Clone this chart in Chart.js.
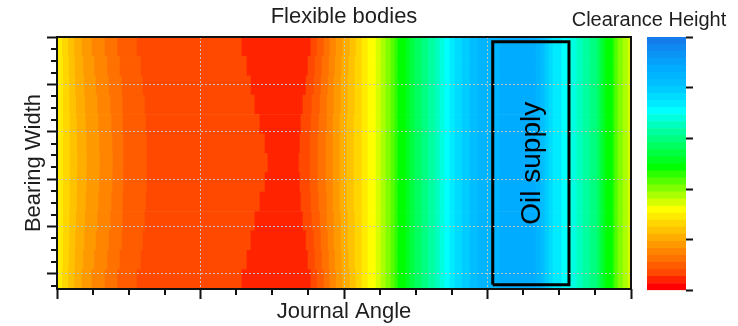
<!DOCTYPE html>
<html>
<head>
<meta charset="utf-8">
<script src="https://cdn.jsdelivr.net/npm/chart.js@4.4.1/dist/chart.umd.min.js"></script>
<style>
  body { margin: 0; background: #fff; }
  #wrap { position: relative; width: 738px; height: 326px; }
  canvas { position: absolute; top: 0; }
  #main { left: 0; }
  #bar { left: 560px; }
</style>
</head>
<body>
<div id="wrap">
  <canvas id="main" width="738" height="326"></canvas>
  <canvas id="bar" width="178" height="326"></canvas>
</div>
<script>
// contour levels along the journal angle (same order for every row), 0 = lowest clearance
const bandLevels = [11, 10, 9, 8, 7, 6, 5, 4, 3, 2, 1,
  2, 3, 4, 5, 6, 7, 8, 9, 10, 11, 12, 13, 14, 15, 16, 17, 18, 19, 20, 21, 22, 23, 24, 25, 26, 27, 28, 29, 30, 31,
  30, 29, 28, 27, 26, 25, 24, 23, 22, 21, 20, 19, 18, 17, 16, 15, 14, 13, 12];

// bearing width of each row (centre of the strip)
const rowWidths = [-0.115, 0.294, 0.703, 1.112, 1.522, 1.931, 2.340, 2.749, 3.158, 3.568, 3.977, 4.386, 4.795];

// journal angle (deg) where the level changes, first 18 changes, read per row
const edgesW0 = [0.8, 4.0, 8.2, 12.9, 18.8, 27.0, 35.1, 41.7, 56.4, 132.3, 151.8, 158.7, 163.7, 168.7, 173.1, 177.5, 181.9, 186.3];
const edgesW1 = [0.8, 4.0, 8.2, 12.7, 18.7, 26.7, 34.8, 41.7, 56.4, 130.5, 152.4, 158.7, 163.7, 168.7, 173.1, 177.5, 181.9, 186.3];
const edgesW2 = [0.8, 4.0, 8.2, 12.5, 18.2, 26.0, 34.2, 41.4, 55.8, 127.3, 153.0, 159.3, 164.3, 169.3, 173.1, 177.5, 181.9, 186.3];
const edgesW3 = [0.8, 4.0, 8.0, 12.1, 17.7, 25.4, 33.6, 41.1, 55.2, 124.2, 154.3, 159.9, 165.0, 169.3, 173.7, 178.1, 182.5, 186.9];
const edgesW4 = [0.8, 4.0, 7.8, 11.6, 17.2, 24.5, 32.6, 40.8, 53.9, 121.7, 156.2, 161.2, 165.6, 170.0, 173.7, 178.1, 182.5, 186.9];
const edgesW5 = [0.6, 3.8, 7.5, 11.3, 16.6, 23.5, 31.7, 39.5, 52.7, 119.2, 157.4, 161.8, 166.2, 170.6, 174.4, 178.7, 183.1, 186.9];
const edgesW6 = [0.5, 3.4, 7.1, 10.9, 15.7, 22.0, 30.1, 37.9, 50.2, 116.0, 159.3, 163.1, 167.5, 171.2, 175.0, 179.4, 183.8, 187.5];

// the rest of the level changes are the same across the width
const sharedEdges = [191.3, 195.1, 200.1, 203.2, 206.3, 209.5, 212.0, 213.9, 218.9, 221.4, 224.5, 228.9,
  232.7, 237.1, 240.2, 243.3, 246.5, 249.6, 254.0, 259.0, 264.0, 277.8,
  300.4, 303.6, 306.1, 308.6, 311.1, 316.7, 321.7, 326.1, 329.9, 334.3, 338.7, 340.6, 342.4, 344.3,
  348.7, 350.0, 351.9, 355.0, 358.1];

const rowEdges = [edgesW6, edgesW5, edgesW4, edgesW3, edgesW2, edgesW1, edgesW0,
  edgesW1, edgesW2, edgesW3, edgesW4, edgesW5, edgesW6];

const oilSupplyAngles = [273.3, 321.1];
const oilSupplyWidths = [-0.23, 4.9];

const levelCount = 36;

// colour map
const colorStops = [
  [0, [255, 0, 0]], [1, [255, 35, 0]], [2, [255, 72, 0]], [11, [255, 255, 0]],
  [17, [0, 255, 0]], [25, [0, 255, 255]], [26, [0, 235, 255]], [29, [0, 190, 255]],
  [31, [0, 172, 255]], [35, [20, 125, 235]]
];
function levelColor(k) {
  for (let i = 1; i < colorStops.length; i++) {
    const [k0, c0] = colorStops[i - 1];
    const [k1, c1] = colorStops[i];
    if (k <= k1) {
      const t = (k - k0) / (k1 - k0);
      return 'rgb(' + c0.map((v, j) => Math.round(v + (c1[j] - v) * t)).join(',') + ')';
    }
  }
}
const palette = [];
for (let k = 0; k < levelCount; k++) palette.push(levelColor(k));

const FONT = '"Liberation Sans", Arial, sans-serif';
const TEXT = '#1e1e1e';
Chart.defaults.font.family = FONT;

const rowSets = rowWidths.map((w, r) => {
  const edges = [0].concat(rowEdges[r], sharedEdges, [360]);
  return {
    type: 'bar',
    indexAxis: 'y',
    order: 1,
    grouped: false,
    barPercentage: 1,
    categoryPercentage: 1,
    borderWidth: 0,
    data: bandLevels.map((lvl, i) => ({ x: [edges[i], edges[i + 1]], y: w })),
    backgroundColor: bandLevels.map(lvl => palette[lvl])
  };
});

const oilBox = {
  type: 'line',
  order: 0,
  data: [
    { x: oilSupplyAngles[0], y: oilSupplyWidths[0] },
    { x: oilSupplyAngles[1], y: oilSupplyWidths[0] },
    { x: oilSupplyAngles[1], y: oilSupplyWidths[1] },
    { x: oilSupplyAngles[0], y: oilSupplyWidths[1] },
    { x: oilSupplyAngles[0], y: oilSupplyWidths[0] }
  ],
  borderColor: '#000',
  borderWidth: 3,
  pointRadius: 0,
  tension: 0,
  fill: false
};

// frame, minor ticks and the oil supply label
const decorations = {
  id: 'decorations',
  afterDraw(chart) {
    const { ctx, chartArea: a, scales: { x, y } } = chart;
    ctx.save();
    ctx.strokeStyle = '#111';
    ctx.lineWidth = 2;
    ctx.beginPath();
    for (let v = 22.5; v < 360; v += 22.5) {
      if (v % 90 === 0) continue;
      const px = Math.round(x.getPixelForValue(v));
      ctx.moveTo(px, a.bottom);
      ctx.lineTo(px, a.bottom + 6);
    }
    for (let v = -0.25; v < 5; v += 0.25) {
      if (v % 1 === 0) continue;
      const py = Math.round(y.getPixelForValue(v));
      ctx.moveTo(a.left - 6, py);
      ctx.lineTo(a.left, py);
    }
    ctx.stroke();
    ctx.strokeRect(a.left, a.top, a.right - a.left, a.bottom - a.top);

    const cx = x.getPixelForValue((oilSupplyAngles[0] + oilSupplyAngles[1]) / 2);
    const cy = y.getPixelForValue((oilSupplyWidths[0] + oilSupplyWidths[1]) / 2);
    ctx.translate(cx + 1, cy);
    ctx.rotate(-Math.PI / 2);
    ctx.font = '28px ' + FONT;
    ctx.fillStyle = '#000';
    ctx.textAlign = 'center';
    ctx.textBaseline = 'middle';
    ctx.fillText('Oil supply', 0, 0);
    ctx.restore();
  }
};

const gridGray = '#c4c4c4';
const none = 'rgba(0,0,0,0)';

new Chart(document.getElementById('main'), {
  type: 'bar',
  data: { datasets: [oilBox].concat(rowSets) },
  options: {
    responsive: false,
    animation: false,
    layout: { padding: { right: 107 } },
    plugins: {
      legend: { display: false },
      tooltip: { enabled: false },
      title: {
        display: true,
        text: 'Flexible bodies',
        fullSize: false,
        color: TEXT,
        font: { size: 22, weight: 'normal' },
        padding: { top: 4, bottom: 6.6 }
      }
    },
    scales: {
      x: {
        type: 'linear',
        min: 0,
        max: 360,
        offset: false,
        ticks: { display: false, stepSize: 90 },
        grid: {
          z: 1,
          offset: false,
          color: c => (c.tick && c.tick.value > 0 && c.tick.value < 360) ? gridGray : none,
          tickColor: '#111',
          tickLength: 10,
          tickWidth: 2,
          lineWidth: 1
        },
        border: { display: false, dash: [2, 2] },
        title: {
          display: true,
          text: 'Journal Angle',
          color: TEXT,
          font: { size: 22 },
          padding: { top: 0, bottom: 0.5 }
        },
        afterFit: s => { s.height = 37; }
      },
      y: {
        type: 'linear',
        min: -0.32,
        max: 5,
        offset: false,
        ticks: { display: false, stepSize: 1, includeBounds: false },
        grid: {
          z: 1,
          offset: false,
          color: c => (c.tick && c.tick.value >= 0 && c.tick.value < 5) ? gridGray : none,
          tickColor: '#111',
          tickLength: 10,
          tickWidth: 2,
          lineWidth: 1
        },
        border: { display: false, dash: [2, 2] },
        title: {
          display: true,
          text: 'Bearing Width',
          color: TEXT,
          font: { size: 22 },
          padding: { top: 20.9, bottom: 0 }
        },
        afterFit: s => { s.width = 57; }
      }
    }
  },
  plugins: [decorations]
});

// colour bar
new Chart(document.getElementById('bar'), {
  type: 'bar',
  data: {
    labels: [''],
    datasets: palette.map((c, k) => ({
      data: [[k, k + 1]],
      backgroundColor: c,
      borderWidth: 0,
      grouped: false,
      barPercentage: 1,
      categoryPercentage: 1
    }))
  },
  options: {
    responsive: false,
    animation: false,
    layout: { padding: { bottom: 35.5 } },
    plugins: {
      legend: { display: false },
      tooltip: { enabled: false },
      title: {
        display: true,
        text: 'Clearance Height',
        color: TEXT,
        font: { size: 20, weight: 'normal' },
        padding: { top: 8.4, bottom: 4.6 }
      }
    },
    scales: {
      x: { display: false },
      y: {
        position: 'right',
        min: 0,
        max: levelCount,
        ticks: { display: false, count: 6 },
        grid: { drawOnChartArea: false, tickLength: 7, tickWidth: 2, tickColor: '#111' },
        border: { display: false },
        afterFit: s => { s.width = 52; }
      },
      spacer: {
        type: 'linear',
        position: 'left',
        ticks: { display: false },
        grid: { display: false },
        border: { display: false },
        afterFit: s => { s.width = 87; }
      }
    }
  }
});
</script>
</body>
</html>
